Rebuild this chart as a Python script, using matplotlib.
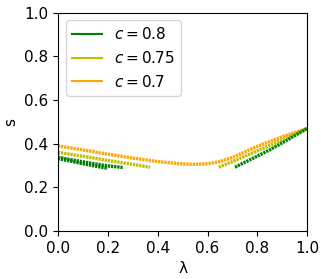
import matplotlib
matplotlib.use('Agg')
import matplotlib.pyplot as plt
from matplotlib.lines import Line2D

plt.rcParams['font.size'] = 11

# c = 0.8 (two left pieces + right piece)
lam_08_a = [0.0, 0.05, 0.10, 0.15, 0.20]
s_08_a = [0.332, 0.320, 0.308, 0.297, 0.287]
lam_08_b = [0.0, 0.05, 0.10, 0.15, 0.20, 0.26]
s_08_b = [0.338, 0.327, 0.317, 0.307, 0.298, 0.291]
lam_08_r = [0.71, 0.75, 0.80, 0.85, 0.90, 0.95, 1.0]
s_08_r = [0.292, 0.315, 0.343, 0.372, 0.404, 0.437, 0.470]

# c = 0.75
lam_075_l = [0.0, 0.05, 0.10, 0.15, 0.20, 0.25, 0.30, 0.37]
s_075_l = [0.360, 0.351, 0.342, 0.333, 0.323, 0.314, 0.305, 0.292]
lam_075_r = [0.645, 0.70, 0.75, 0.80, 0.85, 0.90, 0.95, 1.0]
s_075_r = [0.292, 0.318, 0.343, 0.367, 0.392, 0.418, 0.444, 0.470]

# c = 0.7 (continuous)
lam_07 = [0.0, 0.1, 0.2, 0.3, 0.4, 0.5, 0.55, 0.6, 0.65, 0.7, 0.8, 0.9, 1.0]
s_07 = [0.390, 0.371, 0.352, 0.334, 0.318, 0.307, 0.305, 0.308, 0.318, 0.337, 0.388, 0.432, 0.470]

green = 'green'
olive = '#bfbf00'
orange = 'orange'

fig = plt.figure(figsize=(3.27, 2.79), dpi=100)
ax = fig.add_axes([0.177, 0.172, 0.763, 0.783])

dots = dict(linestyle=(0, (0.7, 0.25)), linewidth=2.4)
ax.plot(lam_07, s_07, color=orange, **dots)
ax.plot(lam_075_l, s_075_l, color=olive, **dots)
ax.plot(lam_075_r, s_075_r, color=olive, **dots)
ax.plot(lam_08_a, s_08_a, color=green, **dots)
ax.plot(lam_08_b, s_08_b, color=green, **dots)
ax.plot(lam_08_r, s_08_r, color=green, **dots)

handles = [
    Line2D([0], [0], color=green, lw=1.5, label='$c=0.8$'),
    Line2D([0], [0], color=olive, lw=1.5, label='$c=0.75$'),
    Line2D([0], [0], color=orange, lw=1.5, label='$c=0.7$'),
]
ax.legend(handles=handles, loc='upper left', fontsize=11)

ax.set_xlim(0, 1)
ax.set_ylim(0, 1)
ax.set_xlabel('λ')
ax.set_ylabel('s')

fig.savefig('out.png', dpi=100)
